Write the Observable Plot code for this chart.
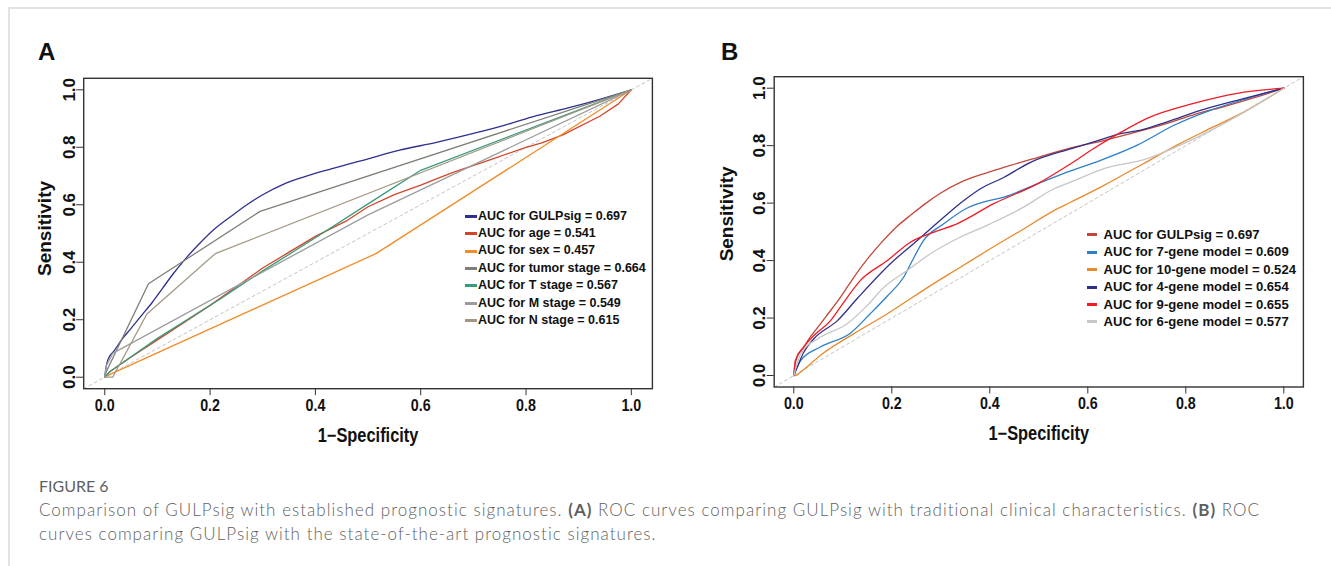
<!DOCTYPE html>
<html><head><meta charset="utf-8">
<script src="https://cdn.jsdelivr.net/npm/d3@7"></script>
<script src="https://cdn.jsdelivr.net/npm/@observablehq/plot@0.6"></script>
<style>
body{margin:0;background:#fff;}
#root{position:relative;width:1331px;height:566px;overflow:hidden;background:#fff;}
.bt{position:absolute;left:8px;top:7px;right:0;height:2px;background:#e3e3e3}
.bl{position:absolute;left:8px;top:7px;width:2px;bottom:0;background:#e3e3e3}
.panel{position:absolute;top:0}
.letter{position:absolute;font:bold 24px "Liberation Sans",Arial,sans-serif;color:#111;line-height:24px}
.legend{position:absolute;font-family:"Liberation Sans",Arial,sans-serif;font-weight:bold;color:#111}
.legend .row{height:17.45px;line-height:17.45px;white-space:nowrap;display:flex;align-items:center}
.legend .sw{display:inline-block;height:3px}
.cap{position:absolute;left:39px;top:474px;font-family:Lato,"Open Sans",sans-serif;color:#5f5f5f;font-size:17px;line-height:24px;font-weight:300;letter-spacing:1.02px;white-space:nowrap}
.cap .fig{font-weight:400;font-size:16px;letter-spacing:0}
.cap b{font-weight:700}
</style>
</head><body><div id="root">
<div class="bt"></div><div class="bl"></div>
</div>
<script>
// ---------- data ----------
const axisDomain = [-0.04, 1.04];
const xTicks = [0, 0.2, 0.4, 0.6, 0.8, 1.0];
const yTicks = [0, 0.2, 0.4, 0.6, 0.8, 1.0];
const xTitle = "1\u2212Specificity";
const yTitle = "Sensitivity";

const gulpsig = [[0,0],[0.002,0.03],[0.007,0.065],[0.017,0.09],[0.034,0.135],[0.05,0.17],[0.07,0.215],[0.09,0.26],[0.11,0.31],[0.13,0.36],[0.15,0.405],[0.18,0.465],[0.21,0.518],[0.24,0.56],[0.27,0.6],[0.3,0.635],[0.34,0.672],[0.38,0.698],[0.43,0.725],[0.5,0.76],[0.56,0.79],[0.63,0.817],[0.7,0.848],[0.76,0.877],[0.82,0.91],[0.88,0.937],[0.94,0.967],[1,1]];
const age = [[0,0],[0.01,0.02],[0.05,0.07],[0.1,0.13],[0.15,0.19],[0.2,0.25],[0.25,0.315],[0.3,0.38],[0.35,0.435],[0.4,0.49],[0.46,0.545],[0.5,0.593],[0.55,0.635],[0.6,0.668],[0.66,0.712],[0.73,0.755],[0.8,0.8],[0.83,0.815],[0.87,0.843],[0.94,0.908],[0.975,0.95],[1,1]];
const sex = [[0,0],[0.01,0.01],[0.515,0.43],[1,1]];
const tumorStage = [[0,0],[0.003,0.02],[0.083,0.325],[0.295,0.577],[1,1]];
const tStage = [[0,0],[0.01,0.02],[0.1,0.135],[0.22,0.273],[0.3,0.37],[0.4,0.485],[0.5,0.603],[0.6,0.72],[1,1]];
const mStage = [[0,0],[0.003,0.04],[0.015,0.083],[0.5,0.565],[1,1]];
const nStage = [[0,0],[0.015,0],[0.08,0.22],[0.21,0.43],[1,1]];

const gene7 = [[0,0],[0.014,0.052],[0.054,0.099],[0.116,0.148],[0.156,0.215],[0.19,0.275],[0.224,0.342],[0.245,0.41],[0.265,0.47],[0.306,0.528],[0.354,0.583],[0.39,0.605],[0.429,0.621],[0.497,0.667],[0.565,0.712],[0.626,0.749],[0.701,0.802],[0.776,0.871],[0.85,0.923],[0.925,0.964],[1,1]];
const gene10 = [[0,0],[0.003,0],[0.014,0.012],[0.054,0.07],[0.122,0.145],[0.191,0.215],[0.279,0.313],[0.34,0.377],[0.395,0.435],[0.469,0.51],[0.531,0.574],[0.565,0.603],[0.633,0.662],[0.714,0.738],[0.782,0.802],[0.85,0.86],[0.925,0.923],[1,1]];
const gene4 = [[0,0],[0.007,0.029],[0.02,0.08],[0.041,0.128],[0.089,0.191],[0.129,0.267],[0.197,0.389],[0.252,0.47],[0.306,0.551],[0.347,0.609],[0.381,0.65],[0.429,0.69],[0.483,0.742],[0.565,0.789],[0.612,0.813],[0.667,0.842],[0.708,0.854],[0.762,0.883],[0.83,0.923],[0.918,0.964],[1,1]];
const gene9 = [[0,0],[0.003,0.052],[0.02,0.099],[0.041,0.139],[0.075,0.191],[0.095,0.238],[0.136,0.331],[0.191,0.4],[0.238,0.464],[0.286,0.499],[0.333,0.528],[0.408,0.598],[0.497,0.667],[0.565,0.737],[0.612,0.79],[0.667,0.846],[0.721,0.895],[0.816,0.947],[0.905,0.982],[1,1]];
const gene6 = [[0,0],[0.014,0.075],[0.054,0.133],[0.109,0.18],[0.15,0.244],[0.184,0.307],[0.231,0.365],[0.279,0.424],[0.333,0.476],[0.401,0.528],[0.469,0.586],[0.531,0.65],[0.565,0.673],[0.633,0.72],[0.721,0.755],[0.803,0.813],[0.884,0.883],[1,1]];

const seriesA = [
  {label:"AUC for GULPsig = 0.697", data:gulpsig, color:"#2E2F8F", curve:"monotone-x"},
  {label:"AUC for age = 0.541", data:age, color:"#D2452B", curve:"linear"},
  {label:"AUC for sex = 0.457", data:sex, color:"#F28C28", curve:"linear"},
  {label:"AUC for tumor stage = 0.664", data:tumorStage, color:"#7F7F76", curve:"linear"},
  {label:"AUC for T stage = 0.567", data:tStage, color:"#3A9A7C", curve:"linear"},
  {label:"AUC for M stage = 0.549", data:mStage, color:"#9A9D9D", curve:"linear"},
  {label:"AUC for N stage = 0.615", data:nStage, color:"#A39684", curve:"linear"}
];
const seriesB = [
  {label:"AUC for GULPsig = 0.697", data:gulpsig, color:"#C2473A", curve:"monotone-x"},
  {label:"AUC for 7-gene model = 0.609", data:gene7, color:"#2D7FC6", curve:"monotone-x"},
  {label:"AUC for 10-gene model = 0.524", data:gene10, color:"#E8892C", curve:"monotone-x"},
  {label:"AUC for 4-gene model = 0.654", data:gene4, color:"#2F2F8A", curve:"monotone-x"},
  {label:"AUC for 9-gene model = 0.655", data:gene9, color:"#EE1C25", curve:"monotone-x"},
  {label:"AUC for 6-gene model = 0.577", data:gene6, color:"#C6C6C6", curve:"monotone-x"}
];

// ---------- drawing ----------
const font = "'Liberation Sans',Arial,sans-serif";
const root = document.getElementById("root");

function condenseText(t, factor) {
  const len = t.getComputedTextLength();
  if (len > 0) {
    t.setAttribute("textLength", (len * factor).toFixed(2));
    t.setAttribute("lengthAdjust", "spacingAndGlyphs");
  }
}

function panel(cfg) {
  const diag = axisDomain.map(v => [v, v]);
  const marks = [
    Plot.line(diag, {x: d => d[0], y: d => d[1], stroke: "#c4c4c4", strokeWidth: 1, strokeDasharray: "3,3"})
  ];
  for (const s of cfg.series) {
    marks.push(Plot.line(s.data, {x: d => d[0], y: d => d[1], stroke: s.color, strokeWidth: 1.3, curve: s.curve}));
  }
  marks.push(
    Plot.frame({stroke: "#333", strokeWidth: 1.4}),
    Plot.axisX(xTicks, {tickSize: 7, tickPadding: 3, tickFormat: d3.format(".1f"), fontSize: 17, fontWeight: "bold", fontFamily: font, label: null, stroke: "#333"}),
    Plot.axisY(yTicks, {tickSize: 7, tickFormat: d => "", label: null, stroke: "#333"}),
    Plot.text(yTicks, {y: d => d, text: d => d3.format(".1f")(d), frameAnchor: "left", dx: -9, rotate: -90, textAnchor: "middle", lineAnchor: "bottom", fontSize: 17, fontWeight: "bold", fontFamily: font, fill: "#111"}),
    Plot.text([xTitle], {frameAnchor: "bottom", dy: 47, textAnchor: "middle", lineAnchor: "middle", fontSize: 19.5, fontWeight: "bold", fontFamily: font, fill: "#111"}),
    Plot.text([yTitle], {frameAnchor: "left", dx: -cfg.yTitleOffset, dy: cfg.yTitleShift, rotate: -90, textAnchor: "middle", lineAnchor: "middle", fontSize: 19, fontWeight: "bold", fontFamily: font, fill: "#111"})
  );
  const svg = Plot.plot({
    width: cfg.width, height: 460,
    marginLeft: cfg.ml, marginRight: cfg.mr, marginTop: cfg.mt, marginBottom: cfg.mb,
    x: {domain: axisDomain},
    y: {domain: axisDomain},
    style: {background: "transparent", color: "#111", overflow: "visible"},
    marks
  });
  const wrap = document.createElement("div");
  wrap.className = "panel";
  wrap.style.left = cfg.left + "px";
  wrap.appendChild(svg);
  root.appendChild(wrap);

  // horizontally condensed text, as in the original figure
  svg.querySelectorAll('g[aria-label="x-axis tick label"] text').forEach(t => condenseText(t, 0.84));
  svg.querySelectorAll("text").forEach(t => { if (t.textContent === xTitle) condenseText(t, 0.84); });

  const letter = document.createElement("div");
  letter.className = "letter";
  letter.textContent = cfg.letter;
  letter.style.left = cfg.letterX + "px";
  letter.style.top = "40px";
  root.appendChild(letter);

  const lg = document.createElement("div");
  lg.className = "legend";
  lg.style.left = cfg.legendX + "px";
  lg.style.top = cfg.legendY + "px";
  lg.style.fontSize = cfg.legendFont + "px";
  for (const s of cfg.series) {
    const row = document.createElement("div");
    row.className = "row";
    const sw = document.createElement("span");
    sw.className = "sw";
    sw.style.width = cfg.swW + "px";
    sw.style.marginRight = cfg.swGap + "px";
    sw.style.background = s.color;
    row.appendChild(sw);
    const t = document.createElement("span");
    t.textContent = s.label;
    row.appendChild(t);
    lg.appendChild(row);
  }
  root.appendChild(lg);
}

panel({series: seriesA, left: 0, width: 680, ml: 83.2, mr: 28.1, mt: 77.8, mb: 71.8, yTitleOffset: 39, yTitleShift: -5, letter: "A", letterX: 38, legendX: 465, legendY: 207.5, legendFont: 12.5, swW: 12, swGap: 1});
panel({series: seriesB, left: 680, width: 651, ml: 93.7, mr: 28.1, mt: 76.2, mb: 73.5, yTitleOffset: 47, yTitleShift: -18, letter: "B", letterX: 721, legendX: 1086.5, legendY: 226, legendFont: 13.1, swW: 10, swGap: 7});

const cap = document.createElement("div");
cap.className = "cap";
cap.innerHTML = '<div class="fig">FIGURE 6</div><div>Comparison of GULPsig with established prognostic signatures. <b>(A)</b> ROC curves comparing GULPsig with traditional clinical characteristics. <b>(B)</b> ROC<br>curves comparing GULPsig with the state-of-the-art prognostic signatures.</div>';
root.appendChild(cap);
</script>
</body></html>
